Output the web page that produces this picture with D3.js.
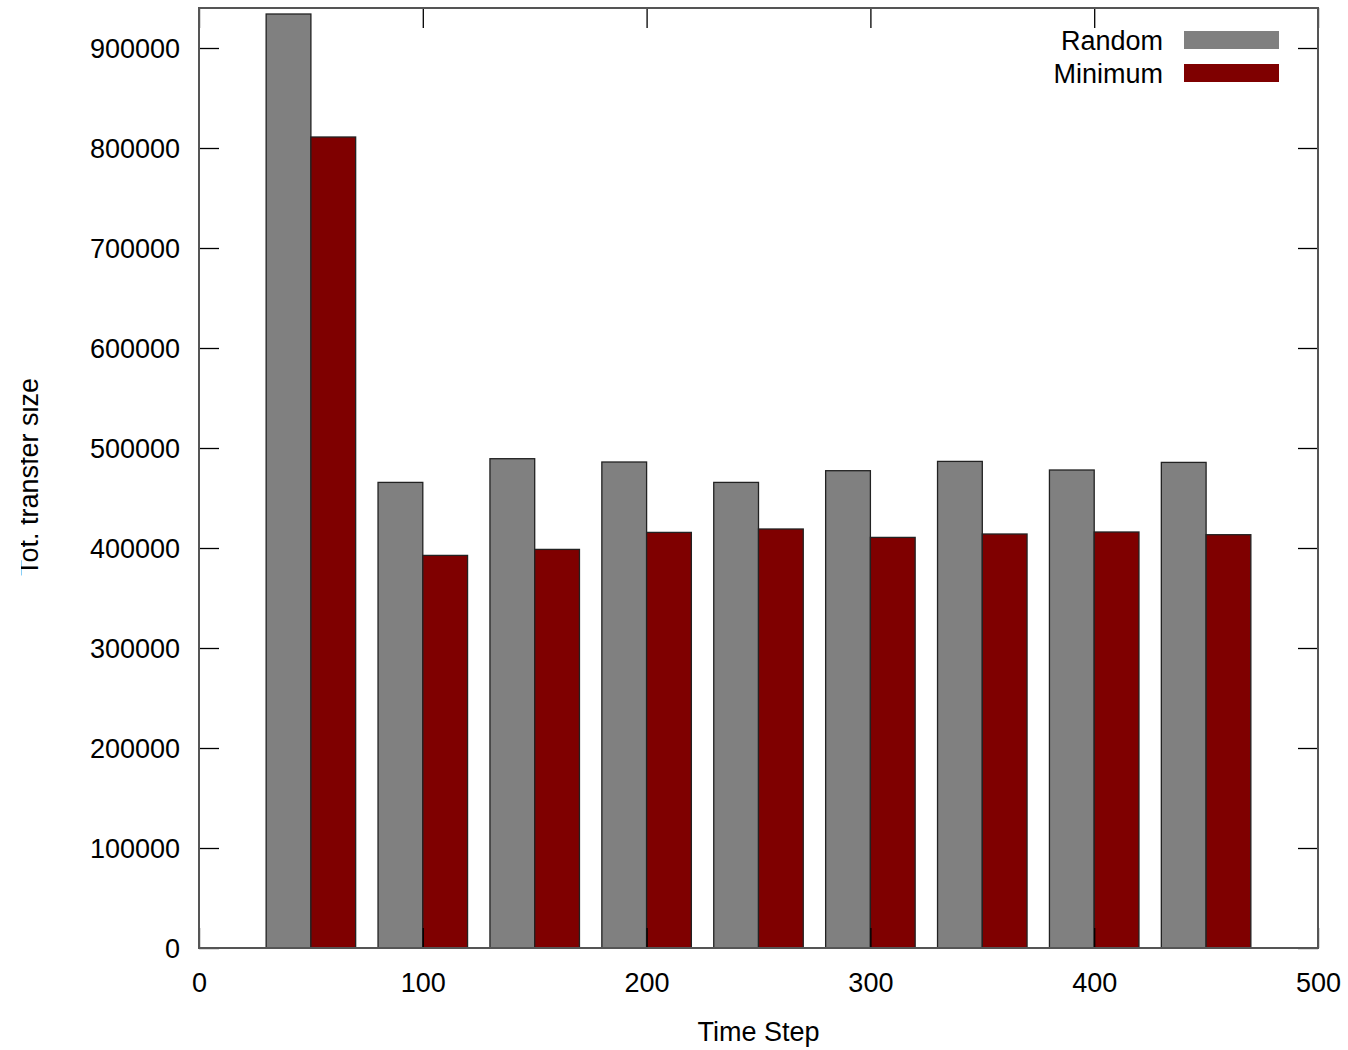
<!DOCTYPE html>
<html>
<head>
<meta charset="utf-8">
<script src="https://cdn.jsdelivr.net/npm/d3@7"></script>
<style>
  html, body { margin: 0; padding: 0; background: #fff; }
  svg { display: block; font-family: "Liberation Sans", Arial, Helvetica, sans-serif; }
</style>
</head>
<body>
<svg id="chart" width="1348" height="1050"></svg>
<script>
// Time steps at which the transfer size was sampled
const steps = [0, 50, 100, 150, 200, 250, 300, 350, 400, 450];
// Total transfer size per strategy
const randomValues  = [0, 934000, 465600, 489300, 486000, 465600, 477300, 486600, 478000, 485600];
const minimumValues = [0, 811000, 392600, 398600, 415600, 419000, 410600, 414000, 416000, 413300];
const seriesNames = ["Random", "Minimum"];
const seriesColors = ["#808080", "#7f0000"];
const xTicks = [0, 100, 200, 300, 400, 500];
const yTicks = [0, 100000, 200000, 300000, 400000, 500000, 600000, 700000, 800000, 900000];
const barWidth = 20; // in time-step units

const svg = d3.select("#chart");
const m = { left: 199, right: 1318, top: 8, bottom: 948 };

const x = d3.scaleLinear().domain([0, 500]).range([m.left, m.right]);
const y = d3.scaleLinear().domain([0, 940000]).range([m.bottom, m.top]);

const defs = svg.append("defs");
defs.append("clipPath").attr("id", "plotclip")
  .append("rect")
  .attr("x", m.left).attr("y", m.top)
  .attr("width", m.right - m.left).attr("height", m.bottom - m.top);

const series = [randomValues, minimumValues];
const bars = svg.append("g").attr("clip-path", "url(#plotclip)");
series.forEach((vals, si) => {
  bars.selectAll(null)
    .data(steps.map((s, i) => ({ s, v: vals[i] })))
    .enter().append("rect")
    .attr("x", d => x(si === 0 ? d.s - barWidth : d.s))
    .attr("y", d => y(d.v))
    .attr("width", d => x(d.s + barWidth) - x(d.s))
    .attr("height", d => y(0) - y(d.v))
    .attr("fill", seriesColors[si])
    .attr("stroke", "#222")
    .attr("stroke-width", 1.3);
});

// Inward tick marks on all four sides
const tickLen = 20;
const axisBottom = d3.axisBottom(x).tickValues(xTicks).tickSize(-tickLen).tickPadding(29).tickFormat(d3.format("d"));
const axisTop = d3.axisTop(x).tickValues(xTicks).tickSize(-tickLen).tickFormat("");
const axisLeft = d3.axisLeft(y).tickValues(yTicks).tickSize(-tickLen).tickPadding(19).tickFormat(d3.format("d"));
const axisRight = d3.axisRight(y).tickValues(yTicks).tickSize(-tickLen).tickFormat("");

function styleAxis(g) {
  g.select(".domain").remove();
  g.selectAll(".tick line").attr("stroke", "#000").attr("stroke-width", 1.3);
  g.selectAll(".tick text").attr("fill", "#000").attr("font-size", 27)
    .attr("font-family", "Liberation Sans, Arial, sans-serif");
}

svg.append("g").attr("transform", `translate(0,${m.bottom})`).call(axisBottom).call(styleAxis)
  .selectAll(".tick text").attr("dy", "0.55em");
svg.append("g").attr("transform", `translate(0,${m.top})`).call(axisTop).call(styleAxis);
svg.append("g").attr("transform", `translate(${m.left},0)`).call(axisLeft).call(styleAxis)
  .selectAll(".tick text").attr("dy", "0.36em");
svg.append("g").attr("transform", `translate(${m.right},0)`).call(axisRight).call(styleAxis);

// Plot border
svg.append("rect")
  .attr("x", m.left).attr("y", m.top)
  .attr("width", m.right - m.left).attr("height", m.bottom - m.top)
  .attr("fill", "none").attr("stroke", "#555").attr("stroke-width", 2);

// Axis titles
svg.append("text")
  .attr("x", (m.left + m.right) / 2).attr("y", 1041)
  .attr("text-anchor", "middle").attr("font-size", 27).attr("fill", "#000")
  .text("Time Step");

// The y title sits against the page edge; its cap tops are cut off there
defs.append("clipPath").attr("id", "ylabelclip")
  .append("rect").attr("x", 21).attr("y", 300).attr("width", 60).attr("height", 400);
svg.append("g").attr("clip-path", "url(#ylabelclip)")
  .append("text")
  .attr("transform", "translate(38,477) rotate(-90)")
  .attr("text-anchor", "middle").attr("font-size", 27).attr("fill", "#000")
  .text("Tot. transfer size");

// Legend
const legend = svg.append("g");
seriesNames.forEach((name, i) => {
  const cy = 40 + i * 33;
  legend.append("text")
    .attr("x", 1163).attr("y", cy).attr("dy", "0.36em")
    .attr("text-anchor", "end").attr("font-size", 27).attr("fill", "#000")
    .text(name);
  legend.append("rect")
    .attr("x", 1184).attr("y", cy - 9).attr("width", 95).attr("height", 18)
    .attr("fill", seriesColors[i]);
});
</script>
</body>
</html>
